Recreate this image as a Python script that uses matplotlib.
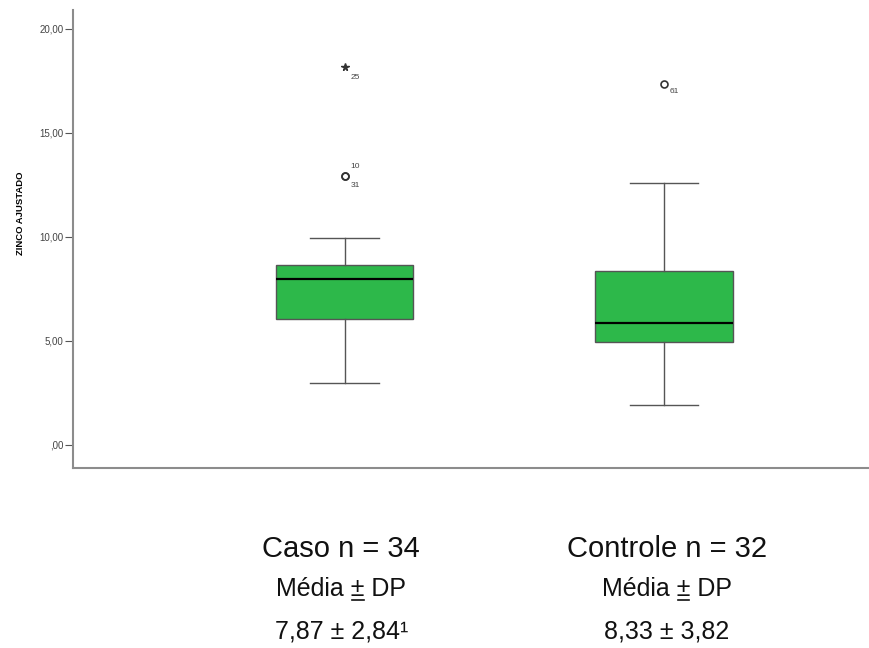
import numpy as np
import matplotlib.pyplot as plt
from matplotlib.lines import Line2D

plt.rcParams['font.family'] = ['Liberation Sans', 'DejaVu Sans']

# box statistics
groups = ['Caso', 'Controle']
q1 = [6.06, 4.95]
medians = [7.98, 5.87]
q3 = [8.65, 8.37]
whis_lo = [2.98, 1.92]
whis_hi = [9.95, 12.60]

# outliers (circle) and extremes (star) with case numbers
outliers = [[12.93, 12.93], [17.36]]
outlier_ids = [['10', '31'], ['61']]
extremes = [[18.17], []]
extreme_ids = [['25'], []]

footer_n = ['Caso n = 34', 'Controle n = 32']
footer_mean = ['7,87 \u00b1 2,84\u00b9', '8,33 \u00b1 3,82']

green = '#2db84a'
grey = '#8c8c8c'

fig = plt.figure(figsize=(8.69, 6.48), dpi=100)
ax = fig.add_axes([0.084, 0.278, 0.916, 0.707])

pos = np.arange(1, len(groups) + 1)
stats = []
for i, g in enumerate(groups):
    stats.append(dict(med=medians[i], q1=q1[i], q3=q3[i],
                      whislo=whis_lo[i], whishi=whis_hi[i],
                      fliers=[], label=g))

ax.bxp(stats, positions=pos, widths=0.43, patch_artist=True,
       showfliers=False,
       boxprops=dict(facecolor=green, edgecolor='#555555', linewidth=1.0),
       medianprops=dict(color='black', linewidth=1.6),
       whiskerprops=dict(color='#555555', linewidth=1.0),
       capprops=dict(color='#555555', linewidth=1.0),
       capwidths=0.213)

lab_kw = dict(textcoords='offset points', fontsize=6, color='#444444',
              ha='left', va='center')
for i, p in enumerate(pos):
    for v in outliers[i]:
        ax.plot(p, v, marker='o', ms=5, mfc='none', mec='#333333', mew=1.2)
    for v in extremes[i]:
        ax.plot(p, v, marker='*', ms=5.5, color='#333333')
    # case number labels
    if len(outliers[i]) == 2:
        ax.annotate(outlier_ids[i][0], (p, outliers[i][0]), xytext=(4.5, 7), **lab_kw)
        ax.annotate(outlier_ids[i][1], (p, outliers[i][1]), xytext=(4.5, -7), **lab_kw)
    elif len(outliers[i]) == 1:
        ax.annotate(outlier_ids[i][0], (p, outliers[i][0]), xytext=(4, -6), **lab_kw)
    for v, lab in zip(extremes[i], extreme_ids[i]):
        ax.annotate(lab, (p, v), xytext=(4.5, -7.5), **lab_kw)

ax.set_xlim(0.150, 2.642)
ax.set_ylim(-1.106, 20.91)
ax.set_yticks([0, 5, 10, 15, 20])
ax.set_yticklabels([',00', '5,00', '10,00', '15,00', '20,00'])
ax.tick_params(axis='y', labelsize=7, length=6, color='#555555',
               labelcolor='#444444', pad=1)
ax.set_xticks([])
fig.text(21 / 869, 1 - 213 / 648, 'ZINCO AJUSTADO', rotation=90,
         fontsize=6.8, fontweight='bold', ha='center', va='center')

for s in ['top', 'right']:
    ax.spines[s].set_visible(False)
for s in ['left', 'bottom']:
    ax.spines[s].set_color(grey)
    ax.spines[s].set_linewidth(1.5)

# footer text under each group
footer_shift = [-0.01, 0.01]
renderer = fig.canvas.get_renderer()
for i, p in enumerate(pos):
    x = p + footer_shift[i]
    ax.text(x, -4.99, footer_n[i], ha='center', va='center', fontsize=21,
            color='#111111', clip_on=False)
    t = ax.text(x, -6.94, 'Média \u00b1 DP', ha='center', va='center',
                fontsize=18, color='#111111', clip_on=False)
    ax.text(x, -8.99, footer_mean[i], ha='center', va='center', fontsize=18,
            color='#111111', clip_on=False)
    # underline the ± sign
    full = t.get_window_extent(renderer)
    pre = ax.text(0, 0, 'Média ', fontsize=18)
    pm = ax.text(0, 0, '\u00b1', fontsize=18)
    w_pre = pre.get_window_extent(renderer).width
    w_pm = pm.get_window_extent(renderer).width
    pre.remove()
    pm.remove()
    x0 = full.x0 + w_pre + 1
    x1 = x0 + w_pm - 2
    yl = full.y0 + 1
    fig.add_artist(Line2D([x0 / fig.dpi / fig.get_figwidth(), x1 / fig.dpi / fig.get_figwidth()],
                          [yl / fig.dpi / fig.get_figheight()] * 2,
                          color='#111111', linewidth=1.2))

fig.savefig('out.png', dpi=100)
